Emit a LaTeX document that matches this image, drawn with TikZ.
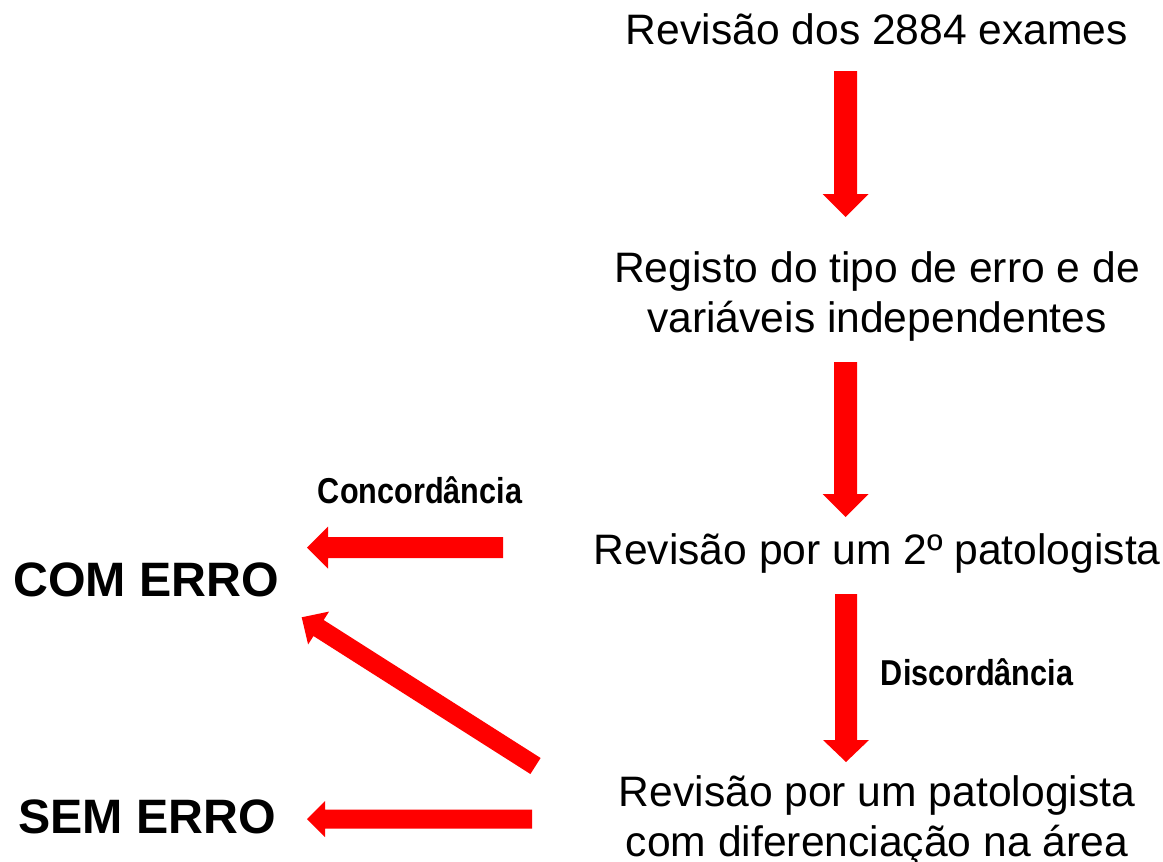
\documentclass[tikz,border=0pt]{standalone}
\usepackage{fontspec}
\setmainfont{Liberation Sans}
\newfontfamily\narrowfont[FakeStretch=0.85]{Liberation Sans}
\usetikzlibrary{calc}
\definecolor{arrowred}{RGB}{255,0,0}
\newcommand\blockarrow[5]{% start, end, half shaft, half head, head length
  \coordinate (tmpH) at ($(#2)!#5!(#1)$);
  \fill[arrowred] ($(#1)!#3!90:(#2)$) -- ($(tmpH)!#3!90:(#2)$) -- ($(tmpH)!#4!90:(#2)$) -- (#2)
    -- ($(tmpH)!#4!-90:(#2)$) -- ($(tmpH)!#3!-90:(#2)$) -- ($(#1)!#3!-90:(#2)$) -- cycle;}
\begin{document}
\begin{tikzpicture}[x=1pt,y=-1pt,
  main/.style={inner sep=0pt, align=center, font=\fontsize{42.6}{50}\selectfont},
  result/.style={inner sep=0pt, font=\fontsize{48.3}{56}\selectfont\bfseries},
  lbl/.style={inner sep=0pt, font=\fontsize{36}{42}\selectfont\narrowfont\bfseries}]
\useasboundingbox (0,0) rectangle (1163,862);
\node[main] (n1) at (877,29) {Revisão dos 2884 exames};
\node[main] (n2) at (877,296) {Registo do tipo de erro e de\\variáveis independentes};
\node[main] (n3) at (877,553) {Revisão por um 2º patologista};
\node[main] (n4) at (877,821) {Revisão por um patologista\\com diferenciação na área};
\node[result] (com) at (146,580) {COM ERRO};
\node[result] (sem) at (147,817) {SEM ERRO};
\node[lbl] (conc) at (420,490) {Concordância};
\node[lbl] (disc) at (977,672) {Discordância};
\coordinate (a1s) at (845.5,71);  \coordinate (a1e) at (845.5,217);
\coordinate (a2s) at (845.5,362); \coordinate (a2e) at (845.5,517);
\coordinate (a3s) at (846,594);   \coordinate (a3e) at (846,762);
\coordinate (a4s) at (503,547.5); \coordinate (a4e) at (307,547.5);
\coordinate (a5s) at (532,819);   \coordinate (a5e) at (307,819);
\coordinate (a6s) at (535.5,766); \coordinate (a6e) at (301.7,617.3);
\blockarrow{a1s}{a1e}{11.5pt}{23pt}{23pt}
\blockarrow{a2s}{a2e}{11.5pt}{23pt}{23pt}
\blockarrow{a3s}{a3e}{11pt}{23pt}{22pt}
\blockarrow{a4s}{a4e}{10.5pt}{21pt}{21pt}
\blockarrow{a5s}{a5e}{9.5pt}{18pt}{18pt}
\blockarrow{a6s}{a6e}{9.5pt}{19.5pt}{20pt}
\end{tikzpicture}
\end{document}
